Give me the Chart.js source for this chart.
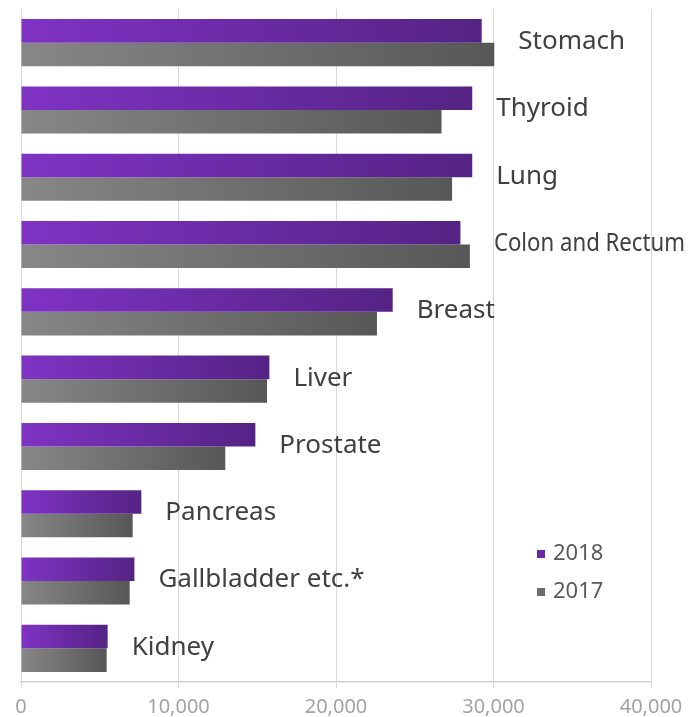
<!DOCTYPE html>
<html>
<head>
<meta charset="utf-8">
<script src="https://cdn.jsdelivr.net/npm/chart.js@4"></script>
<style>
  html, body { margin: 0; padding: 0; background: #fff; }
  #wrap { width: 695px; height: 717px; }
</style>
</head>
<body>
<div id="wrap"><canvas id="cancerChart"></canvas></div>
<script>
// Cancer incidence by site, 2018 vs 2017

const sites = ['Stomach', 'Thyroid', 'Lung', 'Colon and Rectum', 'Breast',
               'Liver', 'Prostate', 'Pancreas', 'Gallbladder etc.*', 'Kidney'];
const cases2018 = [29250, 28650, 28650, 27900, 23600, 15770, 14880, 7640, 7200, 5500];
const cases2017 = [30050, 26700, 27370, 28500, 22600, 15620, 12970, 7090, 6900, 5440];
const xTicks = [0, 10000, 20000, 30000, 40000];

// ---- colours ----
const PURPLE_LIGHT = '#7f33c4';
const PURPLE_DARK  = '#552384';
const GREY_LIGHT   = '#878787';
const GREY_DARK    = '#575757';
const GRID         = '#d9d9d9';
const FONT         = "'Noto Sans', 'DejaVu Sans', sans-serif";

// each bar fades from light (at 0) to dark (at its own end)
function barGradient(light, dark) {
    return ctx => {
        const chart = ctx.chart;
        const xs = chart.scales.x;
        if (!chart.chartArea || !xs || ctx.raw == null) return dark;
        const x0 = xs.getPixelForValue(0);
        const x1 = xs.getPixelForValue(ctx.raw);
        const g = chart.ctx.createLinearGradient(x0, 0, x1, 0);
        g.addColorStop(0, light);
        g.addColorStop(1, dark);
        return g;
    };
}

// site names written just past the longer bar of each pair
const siteLabels = {
    id: 'siteLabels',
    afterDatasetsDraw(chart) {
        const { ctx, scales: { x, y } } = chart;
        ctx.save();
        ctx.font = '26px ' + FONT;
        ctx.fillStyle = '#404040';
        ctx.textAlign = 'left';
        ctx.textBaseline = 'middle';
        sites.forEach((name, i) => {
            const end = Math.max(cases2018[i], cases2017[i]);
            const px = x.getPixelForValue(end) + 24;
            const py = y.getPixelForValue(i) - 1;
            ctx.fillText(name, px, py, chart.width - px - 10);
        });
        ctx.restore();
    }
};

// small legend box inside the lower right of the plot
const cornerLegend = {
    id: 'cornerLegend',
    afterDraw(chart) {
        const { ctx, chartArea } = chart;
        const left = chartArea.right - 114;
        let top = chartArea.bottom - 128;
        ctx.save();
        ctx.font = '22px ' + FONT;
        ctx.textBaseline = 'middle';
        chart.data.datasets.forEach(ds => {
            ctx.fillStyle = ds.legendColor;
            ctx.fillRect(left, top - 4, 8, 8);
            ctx.fillStyle = '#595959';
            ctx.fillText(ds.label, left + 16, top);
            top += 38;
        });
        ctx.restore();
    }
};

new Chart(document.getElementById('cancerChart'), {
    type: 'bar',
    data: {
        labels: sites,
        datasets: [
            {
                label: '2018',
                data: cases2018,
                backgroundColor: barGradient(PURPLE_LIGHT, PURPLE_DARK),
                legendColor: '#6a2aa6',
                categoryPercentage: 0.7,
                barPercentage: 1.0,
            },
            {
                label: '2017',
                data: cases2017,
                backgroundColor: barGradient(GREY_LIGHT, GREY_DARK),
                legendColor: '#6b6b6b',
                categoryPercentage: 0.7,
                barPercentage: 1.0,
            }
        ]
    },
    options: {
        indexAxis: 'y',
        responsive: true,
        maintainAspectRatio: false,
        animation: false,
        layout: { padding: { left: 21, right: 44, top: 9, bottom: 0 } },
        plugins: {
            legend: { display: false },
            tooltip: { enabled: false }
        },
        scales: {
            x: {
                min: 0,
                max: 40000,
                afterBuildTicks: s => { s.ticks = xTicks.map(v => ({ value: v })); },
                afterFit: s => { s.height = 35; },
                grid: { color: GRID, lineWidth: 1, tickLength: 6 },
                border: { display: true, color: '#cfcfcf', width: 1.5 },
                ticks: {
                    color: '#a3a3a3',
                    padding: 7,
                    font: { family: FONT, size: 20 },
                    callback: v => v.toLocaleString('en-US')
                }
            },
            y: {
                afterFit: s => { s.width = 0; },
                grid: { display: false },
                border: { display: true, color: GRID, width: 1 },
                ticks: { display: false }
            }
        }
    },
    plugins: [siteLabels, cornerLegend]
});
</script>
</body>
</html>
